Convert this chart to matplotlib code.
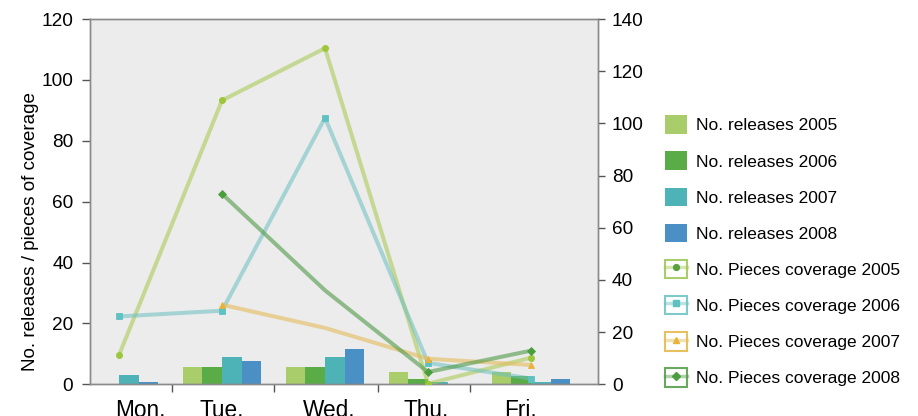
import numpy as np
import matplotlib
matplotlib.use("Agg")
import matplotlib.pyplot as plt
from matplotlib.patches import Rectangle
from matplotlib.lines import Line2D

plt.rcParams['font.family'] = ['Liberation Sans', 'DejaVu Sans']

days = ["Mon.", "Tue.", "Wed.", "Thu.", "Fri."]

releases_2005 = [0, 5.7, 5.7, 3.9, 3.9]
releases_2006 = [0, 5.7, 5.7, 1.6, 2.6]
releases_2007 = [3.0, 9.0, 9.0, 0.7, 0.7]
releases_2008 = [0.7, 7.7, 11.5, 0, 1.6]

coverage_2005 = [11.2, 108.8, 128.8, 0.2, 10.2]
coverage_2006 = [26.0, 28.2, 102.1, 8.2, 2.2]
coverage_2007 = [np.nan, 30.5, 21.6, 9.8, 7.4]
coverage_2008 = [np.nan, 73.0, 36.0, 4.7, 12.9]

release_labels = ["No. releases 2005", "No. releases 2006",
                  "No. releases 2007", "No. releases 2008"]
coverage_labels = ["No. Pieces coverage 2005", "No. Pieces coverage 2006",
                   "No. Pieces coverage 2007", "No. Pieces coverage 2008"]

bar_colors = ["#a8cd6a", "#5aad46", "#4db3b6", "#4a90c4"]
line_colors = ["#a6c84a", "#6cc0c0", "#e4bb5c", "#4f9a48"]
line_alpha = [0.55, 0.55, 0.6, 0.6]
marker_colors = ["#9ec63a", "#5ec2c2", "#e8b23c", "#4a9e3e"]
legend_marker_colors = ["#5aa040", "#5ec2c2", "#e8b23c", "#4a9e3e"]
box_colors = ["#a8cd6a", "#7ccaca", "#e8c060", "#6aa85e"]
markers = ["o", "s", "^", "D"]
mark_every = [[0, 1, 2, 3, 4], [0, 1, 2, 3, 4], [1, 3, 4], [1, 3, 4]]

fig = plt.figure(figsize=(9.18, 4.16), dpi=100)
ax = fig.add_axes([90/918, 1-384.3/416, (598-90)/918, (384.3-19)/416])
ax.set_facecolor("#ececec")

x = np.arange(len(days))
w = 0.19
releases = [releases_2005, releases_2006, releases_2007, releases_2008]
for i, (vals, c) in enumerate(zip(releases, bar_colors)):
    ax.bar(x + (i - 1.5) * w, vals, width=w, color=c, linewidth=0, zorder=2)

ax.set_xlim(-0.2816, 4.65)
ax.set_ylim(0, 120)
ax.set_yticks(np.arange(0, 121, 20))

ax2 = ax.twinx()
ax2.set_ylim(0, 140)
ax2.set_yticks(np.arange(0, 141, 20))
coverage = [coverage_2005, coverage_2006, coverage_2007, coverage_2008]
for vals, lc, la, mc, m, me in zip(coverage, line_colors, line_alpha,
                                   marker_colors, markers, mark_every):
    rgba = matplotlib.colors.to_rgba(lc, la)
    ms = 4.4 if m != "D" else 4.2
    ax2.plot(x, vals, color=rgba, lw=2.9, marker=m, markevery=me,
             markersize=ms, markerfacecolor=mc, markeredgecolor=mc,
             markeredgewidth=0.6, solid_capstyle='butt', zorder=3)

spine_c = "#8a8a8a"
for a in (ax, ax2):
    for s in a.spines.values():
        s.set_color(spine_c)
        s.set_linewidth(1.0)

ax.tick_params(axis='y', direction='out', length=6, width=1, color="#555555",
               labelsize=13.7, pad=6)
ax2.tick_params(axis='y', direction='out', length=5, width=1, color="#555555",
                labelsize=13.7, pad=5)

# category separators and day labels
ax.set_xticks([0.515, 1.508, 2.517, 3.41])
ax.set_xticklabels([])
ax.tick_params(axis='x', which='major', direction='out', length=6, width=1,
               color="#555555")
ax.set_xticks([0.204, 0.997, 2.04, 2.98, 3.90], minor=True)
ax.set_xticklabels(days, minor=True)
ax.tick_params(axis='x', which='minor', length=0, labelsize=16.3, pad=10.6)

fig.text(31/918, 1-231.7/416, "No. releases / pieces of coverage",
         rotation=90, ha='center', va='center', fontsize=13.6)

# legend
handles = []
for c in bar_colors:
    handles.append(Rectangle((0, 0), 1, 1, facecolor=c, edgecolor='none'))
for lc, mc, bc, m in zip(line_colors, legend_marker_colors, box_colors, markers):
    box = Rectangle((0, 0), 1, 1, facecolor='white', edgecolor=bc, linewidth=1.5)
    ln = Line2D([], [], color=matplotlib.colors.to_rgba(lc, 0.45), lw=2.5,
                marker=m, markersize=4.2, markerfacecolor=mc, markeredgecolor=mc)
    handles.append((box, ln))

fig.legend(handles, release_labels + coverage_labels,
           loc='upper left', bbox_to_anchor=(665/918, 1-115.3/416),
           frameon=False, fontsize=12.5, borderpad=0, borderaxespad=0,
           handlelength=1.27, handleheight=1.27, labelspacing=1.01,
           handletextpad=0.52)

fig.savefig("out.png", dpi=100)
